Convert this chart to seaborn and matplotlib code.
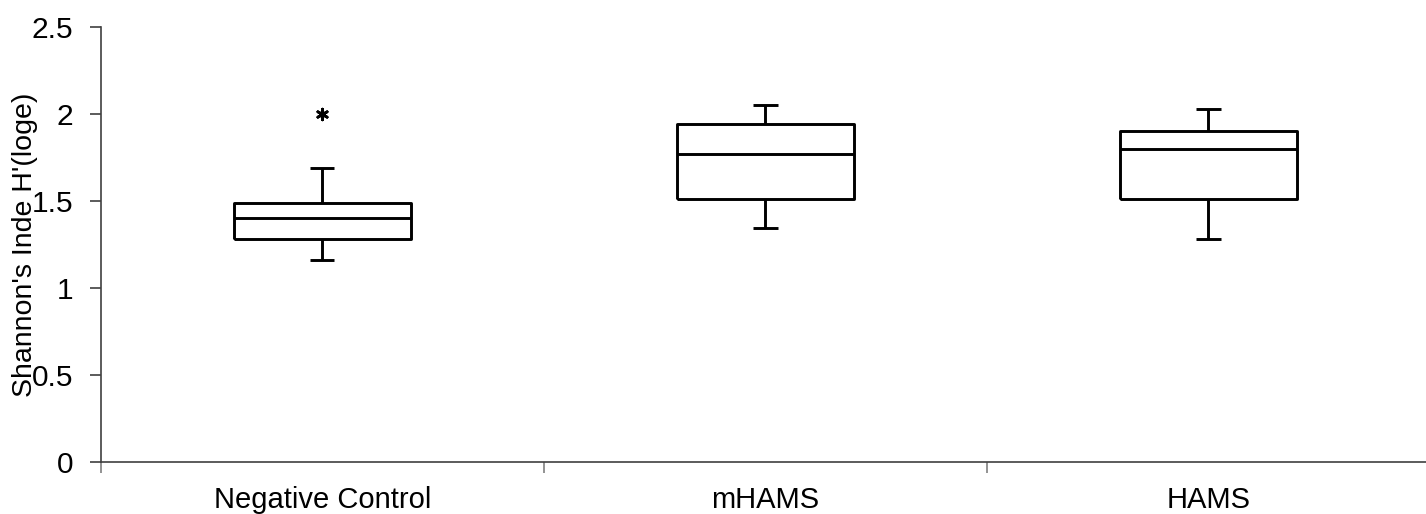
import matplotlib
matplotlib.use("Agg")
import matplotlib.pyplot as plt
import seaborn as sns
import pandas as pd

# Five-number summaries (min, Q1, median, Q3, max) of Shannon's index per group
groups = ["Negative Control", "mHAMS", "HAMS"]
whisker_low = [1.16, 1.345, 1.285]
q1 = [1.28, 1.51, 1.51]
median = [1.40, 1.77, 1.80]
q3 = [1.49, 1.94, 1.90]
whisker_high = [1.69, 2.05, 2.03]
# Outlier shown with an asterisk
outlier_group = [0]
outlier_value = [2.0]

y_ticks = [0, 0.5, 1, 1.5, 2, 2.5]
y_tick_labels = ["0", "0.5", "1", "1.5", "2", "2.5"]

rows = []
for g, lo, a, m, b, hi in zip(groups, whisker_low, q1, median, q3, whisker_high):
    for v in (lo, a, m, b, hi):
        rows.append({"group": g, "H": v})
df = pd.DataFrame(rows)

sns.set_style("white")
plt.rcParams["font.family"] = ["Liberation Sans", "DejaVu Sans"]
plt.rcParams["text.color"] = "black"
plt.rcParams["xtick.color"] = "black"
plt.rcParams["ytick.color"] = "black"
plt.rcParams["axes.labelcolor"] = "black"

fig = plt.figure(figsize=(14.26, 5.14), dpi=100)
ax = fig.add_axes([0.0706, 0.1006, 0.9322, 0.847])

sns.boxplot(
    data=df, x="group", y="H", order=groups, ax=ax,
    width=0.4, whis=3.0, fill=False, color="black", linecolor="black",
    linewidth=2.1, capwidths=0.055, showfliers=False,
)
for line in ax.lines:
    line.set_solid_capstyle("butt")

ax.scatter(outlier_group, outlier_value, marker=(6, 2, 0), s=60,
           color="black", linewidths=2.0, zorder=5)

ax.set_xlim(-0.5, 2.5)
ax.set_ylim(0, 2.5)
ax.set_yticks(y_ticks)
ax.set_yticklabels(y_tick_labels)
ax.set_xticks(range(len(groups)))
ax.set_xticklabels(groups)
ax.set_xticks([-0.5, 0.5, 1.5, 2.5], minor=True)

ax.tick_params(axis="y", which="major", left=True, length=8, width=1.2,
               color="#404040", labelsize=21.5, pad=12)
ax.tick_params(axis="x", which="major", bottom=False, length=0,
               labelsize=21, pad=17)
ax.tick_params(axis="x", which="minor", bottom=True, length=8, width=1.2,
               color="#808080")

for side in ("top", "right"):
    ax.spines[side].set_visible(False)
for side in ("left", "bottom"):
    ax.spines[side].set_color("#404040")
    ax.spines[side].set_linewidth(1.2)

ax.set_xlabel("")
ax.set_ylabel("Shannon's Inde H'(loge)", fontsize=20.5)
ax.yaxis.set_label_coords(-0.047, 0.5)

fig.savefig("out.png", dpi=100)
